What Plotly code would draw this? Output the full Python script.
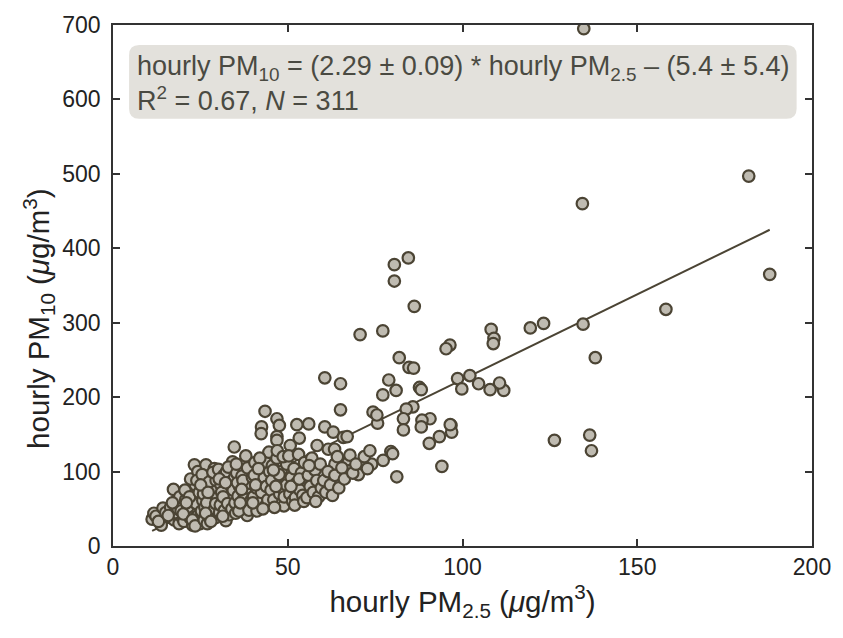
import plotly.graph_objects as go

# hourly PM2.5 (x) and hourly PM10 (y), ug/m3
pm25 = [
    # outlying / upper points
    134.7, 181.9, 134.3, 187.9, 158.2, 134.5, 138.0, 126.3, 136.4, 136.9,
    123.2, 119.4, 108.2, 109.0, 108.8, 111.8, 110.6, 107.9, 104.6, 102.1,
    98.6, 99.8, 96.4, 95.3, 96.7, 96.9, 93.4, 90.5, 94.1, 90.7,
    88.4, 88.2, 87.7, 88.2, 85.8, 83.9, 83.1, 83.1, 86.2, 84.5,
    80.5, 80.5, 77.2, 81.9, 84.7, 86.0, 78.9, 81.0, 77.2, 74.4,
    75.7, 79.5, 80.0, 77.3, 74.0, 70.7, 60.6, 65.1, 65.1, 43.5,
    46.9, 47.6, 42.5, 42.4, 52.6, 56.0, 60.6, 63.0, 46.9, 46.9,
    53.3, 50.7, 58.4, 65.9, 67.0, 34.7, 75.5, 96.5, 61.6, 63.4,
    71.1, 67.3, 67.3, 63.5, 70.2, 81.2,
    # dense cluster
    11.2, 11.7, 12.3, 13.8, 14.3, 16.2, 13.0, 15.1,
    17.3, 16.8, 17.5, 18.2, 18.9, 19.4, 18.0, 19.8, 16.5, 17.9, 19.1, 18.6, 15.8, 19.5, 17.0,
    20.3, 20.8, 21.2, 21.6, 22.0, 22.4, 22.8, 23.3, 23.0, 23.6, 24.1, 24.5, 24.9, 21.4, 20.6,
    22.2, 23.8, 24.3, 21.9, 20.1, 22.7, 24.7, 23.5, 21.0, 24.0,
    25.3, 25.7, 26.1, 26.6, 26.9, 27.3, 27.7, 28.1, 28.5, 29.0, 29.3, 29.7, 25.5, 26.3, 27.0,
    27.5, 28.3, 28.8, 29.5, 25.9, 26.8, 27.9, 28.6, 29.1, 29.9, 25.1, 26.5, 27.2, 28.0, 29.4,
    30.2, 30.5, 30.9, 31.3, 31.7, 32.0, 32.3, 32.7, 33.1, 33.5, 33.9, 34.2, 34.5, 30.7, 31.1,
    31.9, 32.5, 33.3, 33.7, 34.8, 30.4, 31.5, 32.8, 33.0, 34.0, 34.4, 31.4, 32.2, 34.9,
    35.1, 35.4, 35.8, 36.2, 36.6, 37.0, 37.3, 37.7, 38.0, 38.4, 38.7, 39.1, 39.5, 39.8,
    35.6, 36.0, 36.9, 37.5, 38.2, 38.9, 39.3, 35.3, 36.4, 37.2, 38.5, 39.6, 36.8, 39.9,
    40.2, 40.6, 41.0, 41.4, 41.8, 42.2, 42.7, 43.1, 43.7, 43.7, 44.1, 44.6, 44.9, 40.4, 41.2,
    42.0, 42.5, 43.3, 44.3, 40.8, 41.6, 43.9, 44.8, 42.9, 40.0,
    45.2, 45.6, 46.0, 46.4, 46.9, 47.3, 47.7, 48.1, 48.5, 48.9, 49.3, 49.7, 45.4, 46.2, 47.0,
    47.5, 48.3, 49.0, 49.6, 45.9, 48.7, 46.6,
    50.3, 50.6, 51.0, 51.4, 51.8, 52.2, 52.6, 53.1, 53.5, 53.9, 54.3, 54.8, 50.9, 52.0, 53.3, 54.6,
    55.5, 55.9, 56.4, 56.9, 57.3, 57.8, 58.3, 58.8, 59.3, 59.6, 56.1, 58.0,
    60.3, 60.9, 61.5, 62.2, 62.8, 63.5, 64.2, 64.6,
    65.5, 66.2, 67.8, 68.6, 69.5, 71.9, 72.8, 73.5,
]
pm10 = [
    695, 497, 460, 365, 318, 298, 253, 142, 149, 128,
    299, 293, 291, 279, 272, 209, 219, 210, 218, 229,
    225, 211, 270, 265, 162, 153, 147, 138, 107, 171,
    169, 160, 213, 210, 187, 184, 171, 156, 322, 387,
    378, 356, 289, 253, 240, 239, 223, 209, 203, 180,
    165, 127, 124, 115, 110, 284, 226, 218, 183, 181,
    171, 162, 160, 151, 163, 164, 160, 153, 147, 142,
    145, 135, 135, 146, 147, 133, 176, 163, 130, 130,
    107, 112, 101, 110, 96, 93,
    36, 44, 40, 28, 51, 39, 33, 45,
    76, 48, 35, 42, 30, 55, 60, 38, 52, 45, 66, 50, 41, 47, 58,
    33, 62, 45, 70, 38, 55, 28, 109, 48, 82, 40, 63, 30, 52, 75,
    90, 57, 100, 66, 43, 35, 72, 27, 58, 88,
    47, 61, 35, 109, 80, 42, 93, 55, 68, 104, 38, 75, 96, 52, 30,
    86, 46, 60, 88, 70, 58, 36, 99, 50, 65, 82, 44, 72, 33, 57,
    103, 45, 82, 60, 95, 38, 34, 70, 52, 88, 78, 113, 64, 55, 72,
    48, 100, 42, 62, 92, 90, 66, 57, 106, 50, 75, 40, 85, 58,
    44, 98, 67, 80, 52, 108, 73, 60, 121, 41, 90, 70, 100, 56,
    85, 47, 94, 64, 78, 48, 84, 110, 58, 88, 105, 62, 76, 92,
    66, 112, 78, 55, 96, 84, 60, 104, 54, 112, 70, 126, 88, 95, 47,
    118, 72, 92, 62, 82, 104, 80, 100, 50, 58,
    75, 108, 62, 95, 118, 84, 70, 100, 58, 54, 90, 110, 88, 52, 128,
    96, 78, 66, 82, 102, 120, 80,
    121, 70, 92, 60, 104, 65, 85, 123, 75, 98, 68, 112, 80, 55, 90, 60,
    65, 95, 80, 118, 72, 102, 88, 66, 110, 78, 108, 60,
    88, 72, 100, 82, 68, 95, 120, 78,
    105, 90, 122, 98, 110, 120, 104, 128,
]

slope = 2.29
intercept = -5.4
fit_x = [min(pm25), max(pm25)]
fit_y = [slope * v + intercept for v in fit_x]

edge = "#4b4434"
fill = "#bfbbb1"
axis_c = "#333333"
font_fam = "Liberation Sans, Arial, sans-serif"
txt_c = "#222222"

fig = go.Figure()
fig.add_trace(go.Scatter(x=fit_x, y=fit_y, mode="lines",
                         line=dict(color=edge, width=2), hoverinfo="skip"))
fig.add_trace(go.Scatter(x=pm25, y=pm10, mode="markers",
                         marker=dict(size=11.5, color=fill, line=dict(color=edge, width=2.2))))

# rounded annotation box (data coords)
x0, x1, y0, y1 = 4.6, 195.6, 574, 673
rx, ry = 2.9, 13.5
path = (f"M {x0+rx},{y0} L {x1-rx},{y0} Q {x1},{y0} {x1},{y0+ry} "
        f"L {x1},{y1-ry} Q {x1},{y1} {x1-rx},{y1} L {x0+rx},{y1} "
        f"Q {x0},{y1} {x0},{y1-ry} L {x0},{y0+ry} Q {x0},{y0} {x0+rx},{y0} Z")
fig.add_shape(type="path", path=path, xref="x", yref="y",
              fillcolor="#e3e1dc", line=dict(width=0), layer="below")

fig.add_annotation(
    x=6.4, y=622, xref="x", yref="y", xanchor="left", yanchor="middle",
    align="left", showarrow=False,
    text=("hourly PM<sub>10</sub> = (2.29 ± 0.09) * hourly PM<sub>2.5</sub> – (5.4 ± 5.4)"
          "<br>R<sup>2</sup> = 0.67, <i>N</i> = 311"),
    font=dict(family=font_fam, size=27, color="#4a4a42"),
)

# y-axis title placed as in the reference
fig.add_annotation(
    x=-0.106, y=305, xref="paper", yref="y", xanchor="center", yanchor="middle",
    textangle=-90, showarrow=False,
    text="hourly PM<sub>10</sub> (<i>μ</i>g/m<sup>3</sup>)",
    font=dict(family=font_fam, size=29.5, color=txt_c),
)

axis_common = dict(showgrid=False, zeroline=False, showline=True, linecolor=axis_c,
                   linewidth=1.5, mirror="ticks", ticks="inside", ticklen=7,
                   tickwidth=1.5, tickcolor=axis_c,
                   tickfont=dict(family=font_fam, size=23, color=txt_c))

fig.update_xaxes(range=[0, 200], tickvals=[0, 50, 100, 150, 200],
                 title=dict(text="hourly PM<sub>2.5</sub> (<i>μ</i>g/m<sup>3</sup>)",
                            font=dict(family=font_fam, size=29.5, color=txt_c),
                            standoff=6),
                 **axis_common)
fig.update_yaxes(range=[0, 700], tickvals=list(range(0, 701, 100)),
                 ticklabelstandoff=6,
                 **axis_common)

fig.update_layout(width=843, height=638, showlegend=False,
                  plot_bgcolor="white", paper_bgcolor="white",
                  margin=dict(l=113, r=26, t=18, b=92))

fig.write_html("out.html")
